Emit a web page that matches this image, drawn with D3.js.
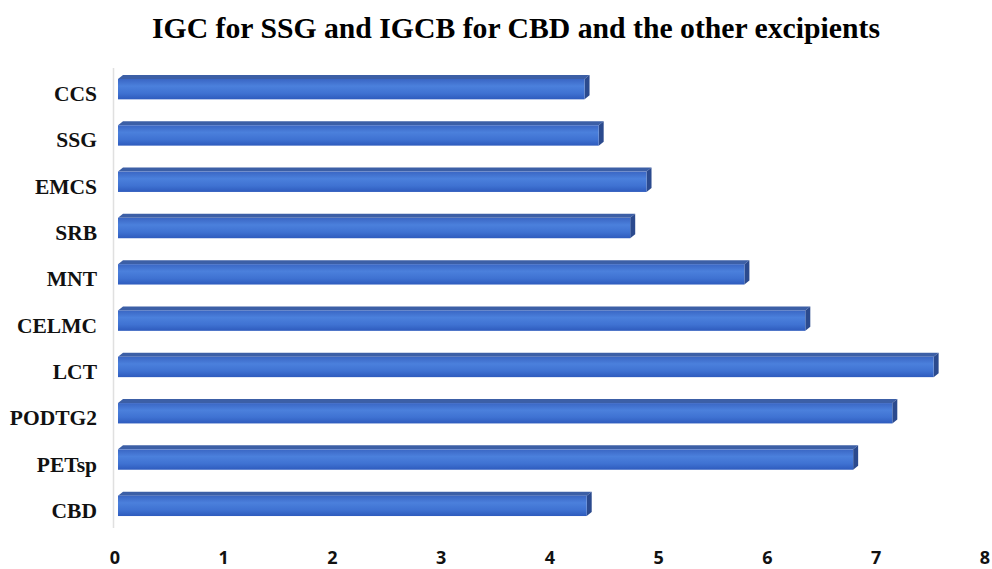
<!DOCTYPE html>
<html><head><meta charset="utf-8">
<script src="https://cdn.jsdelivr.net/npm/d3@7"></script>
<style>body{margin:0;background:#fff}svg{display:block}</style>
</head><body><svg id="c" width="992" height="569"></svg>
<script>
const categories = ["CCS","SSG","EMCS","SRB","MNT","CELMC","LCT","PODTG2","PETsp","CBD"];
const values = [4.29,4.42,4.86,4.71,5.76,6.32,7.50,7.12,6.76,4.31];
const xTicks = [0,1,2,3,4,5,6,7,8];
const title = "IGC for SSG and IGCB for CBD and the other excipients";

const svg = d3.select("#c");
const x = d3.scaleLinear().domain([0,8]).range([115,985]);
const y = d3.scaleBand().domain(categories).range([66,529]).paddingInner(0.56).paddingOuter(0.28);

const defs = svg.append("defs");
const g = defs.append("linearGradient").attr("id","front").attr("x1",0).attr("y1",0).attr("x2",0).attr("y2",1);
[[0,"#3a66c4"],[0.35,"#4b80dc"],[0.7,"#3f72d2"],[1,"#2e5bbd"]].forEach(s=>g.append("stop").attr("offset",s[0]).attr("stop-color",s[1]));

svg.append("text").attr("x",516).attr("y",38).attr("text-anchor","middle")
  .attr("font-family","Liberation Serif").attr("font-weight","bold").attr("font-size",30)
  .attr("textLength",728).attr("lengthAdjust","spacingAndGlyphs").text(title);

svg.append("line").attr("x1",113.5).attr("x2",113.5).attr("y1",68).attr("y2",528)
  .attr("stroke","#e0e0e0").attr("stroke-width",1.5);

const dx = 5, dy = 4, off = 3;
const bars = svg.append("g").selectAll("g").data(categories).join("g");
bars.each(function(c,i){
  const gg = d3.select(this);
  const x0 = x(0)+off, x1 = x(values[i])+off;
  const yt = y(c), h = y.bandwidth();
  gg.append("path").attr("d",`M${x0},${yt}L${x0+dx},${yt-dy}L${x1+dx},${yt-dy}L${x1},${yt}Z`).attr("fill","#3c5fa6");
  gg.append("path").attr("d",`M${x1},${yt}L${x1+dx},${yt-dy}L${x1+dx},${yt+h-dy}L${x1},${yt+h}Z`).attr("fill","#2b4a8e");
  gg.append("rect").attr("x",x0).attr("y",yt).attr("width",x1-x0).attr("height",h).attr("fill","url(#front)");
});

svg.append("g").selectAll("text").data(categories).join("text")
  .attr("x",97).attr("y",c=>y(c)+y.bandwidth()/2+12).attr("text-anchor","end")
  .attr("font-family","Liberation Serif").attr("font-weight","bold").attr("font-size",21.5).attr("fill","#111")
  .text(c=>c);

svg.append("g").selectAll("text").data(xTicks).join("text")
  .attr("x",t=>x(t)).attr("y",564).attr("text-anchor","middle")
  .attr("font-family","Open Sans").attr("font-weight","bold").attr("font-size",18).attr("fill","#111")
  .text(t=>t);
</script></body></html>
